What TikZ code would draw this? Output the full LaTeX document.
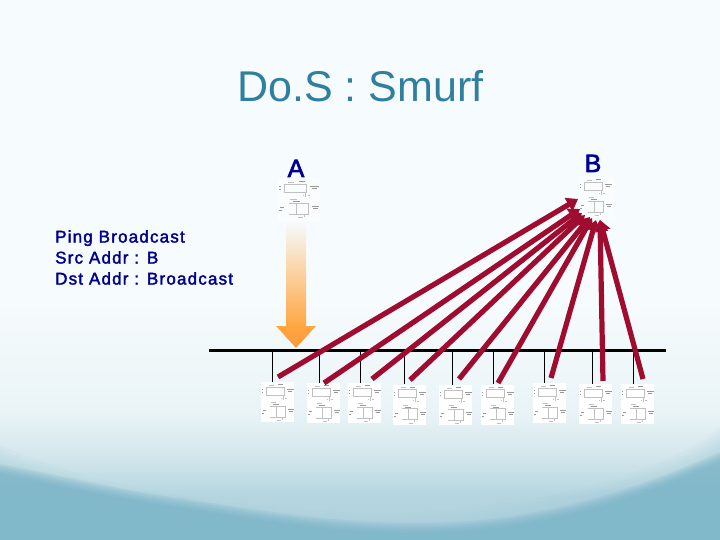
\documentclass[tikz,border=0pt]{standalone}
\usepackage{fontspec}
\setmainfont{Liberation Sans}
\newfontfamily\boldish[FakeBold=2.5]{Liberation Sans}
\newfontfamily\spaced[FakeBold=2,LetterSpace=7]{Liberation Sans}
\usetikzlibrary{arrows.meta}
\definecolor{titleblue}{HTML}{2F7F9F}
\definecolor{navy}{HTML}{000090}
\definecolor{wine}{HTML}{A00C30}
\definecolor{sketch}{HTML}{C0C0C0}
\definecolor{blob}{HTML}{989898}
\definecolor{orangeA}{HTML}{FFA640}
\definecolor{paper}{HTML}{F6FBFD}
\definecolor{pale}{HTML}{EAF4F7}
\definecolor{mist}{HTML}{D5E7ED}
\definecolor{haze}{HTML}{B4D5DF}
\definecolor{teal}{HTML}{74B1C6}
\definecolor{tealsoft}{HTML}{8EC0D0}
\pgfdeclareverticalshading{slidebg}{100bp}{
  color(0bp)=(haze);
  color(29bp)=(haze);
  color(33bp)=(mist);
  color(37bp)=(pale);
  color(47bp)=(paper);
  color(100bp)=(paper)}
\tikzset{
  hostbox/.style={fill=white,draw=none,minimum width=33pt,minimum height=40pt,inner sep=0pt},
  ghostbox/.style={fill=white,fill opacity=.5,draw=none,minimum width=42pt,minimum height=42pt,inner sep=0pt},
  sk/.style={draw=sketch,line width=.55pt},
  bl/.style={draw=blob,line width=.8pt},
  flood/.style={draw=wine,line width=5.2pt,-{Triangle[length=11pt,width=15pt]}},
  drop/.style={draw=black,line width=1pt},
  busline/.style={draw=black,line width=3pt},
}
\newcommand{\hostsketch}[2]{%
  \begin{scope}[shift={(#1.north west)},xscale=#2]
    \draw[sk] (5,5) rectangle (23,13);
    \draw[sk] (22,13) -- (22,18);
    \draw[bl] (17,3) -- (22,3);
    \draw[sk] (8,3) -- (13,3);
    \draw[bl] (1,8) -- (2.5,8) (1,11) -- (2.5,11);
    \draw[bl] (26,8) -- (33,8) (27,10) -- (31,10);
    \draw[sk] (20,16) -- (21,16) (24,16.5) -- (26,16.5);
    \draw[sk] (9,24) -- (24,24) -- (24,35) -- (9,35);
    \draw[sk] (15,24) -- (15,35);
    \draw[bl] (12,23) -- (18,23);
    \draw[sk] (10,20.5) -- (15,20.5);
    \draw[bl] (2,29) -- (5,29) (1,32) -- (3,32);
    \draw[bl] (27,28) -- (33,28) (28,30) -- (32,30);
    \draw[sk] (21,35) -- (21,38) (16,38.5) -- (20,38.5);
  \end{scope}}
\begin{document}
\begin{tikzpicture}[x=1pt,y=-1pt]
\useasboundingbox (0,0) rectangle (720,540);
% background
\shade[shading=slidebg] (0,0) rectangle (720,540);
\foreach \k in {0,...,5}{
  \fill[tealsoft,opacity=.06,yshift=\k*4pt*-1]
    (0,445) .. controls (100,490) and (220,505) .. (345,512)
    .. controls (500,518) and (660,480) .. (720,427) -- (720,560) -- (0,560) -- cycle;
}
\foreach \k in {0,...,5}{
  \fill[teal,opacity=.18,yshift=\k*2pt*-1]
    (0,464) .. controls (70,477) and (120,490) .. (180,498)
    .. controls (260,510) and (330,523) .. (420,523)
    .. controls (540,523) and (640,488) .. (720,452) -- (720,560) -- (0,560) -- cycle;
}
% title and labels
\node[anchor=base west,inner sep=0pt,text=titleblue,font=\fontsize{43}{43}\selectfont] (title) at (237,102) {Do.S : Smurf};
\node[anchor=base,inner sep=0pt,text=navy,font=\boldish\fontsize{25}{25}\selectfont] (labA) at (296,177) {A};
\node[anchor=base,inner sep=0pt,text=navy,font=\boldish\fontsize{25}{25}\selectfont] (labB) at (593,172) {B};
\node[anchor=north west,inner sep=0pt,align=left,text=navy,font=\spaced\fontsize{17}{21}\selectfont] (pingtext) at (55,230) {Ping Broadcast\\Src Addr : B\\Dst Addr : Broadcast};
% top hosts
\node[ghostbox] (hA) at (299,200) {};
\node[ghostbox,minimum width=36pt] (hB) at (597,198) {};
\hostsketch{hA}{1.25}
\hostsketch{hB}{1}
% bus
\coordinate (busL) at (209,350.5);
\coordinate (busR) at (666,350.5);
% hosts
\node[hostbox] (h1) at (277.5,402) {};
\node[hostbox] (h2) at (323.5,403) {};
\node[hostbox] (h3) at (364.5,403) {};
\node[hostbox] (h4) at (409.5,404.5) {};
\node[hostbox] (h5) at (455.5,405) {};
\node[hostbox] (h6) at (497.5,404.5) {};
\node[hostbox] (h7) at (549.5,403) {};
\node[hostbox] (h8) at (595.5,404) {};
\node[hostbox] (h9) at (637.5,404) {};
\foreach \n in {h1,h2,h3,h4,h5,h6,h7,h8,h9}{\hostsketch{\n}{1}}
% drops
\foreach \n/\x in {h1/272.5,h2/319.5,h3/360.5,h4/404.5,h5/452.5,h6/493.5,h7/544.5,h8/592.5,h9/633.5}{
  \coordinate (d\n) at (\x,350.5);
  \draw[drop] (d\n) -- (d\n |- \n.north);
}
\draw[busline] (busL) -- (busR);
% broadcast arrow
\shade[top color=paper,bottom color=orangeA,draw=none] (286,222) rectangle (306,327);
\shade[top color=orangeA,bottom color=orangeA!92!red,draw=none] (276,326) -- (316,326) -- (296,348) -- cycle;
% flood arrows
\coordinate (t1) at (278,377); \coordinate (e1) at (578,199);
\coordinate (t2) at (324,383); \coordinate (e2) at (580,209);
\coordinate (t3) at (372,379); \coordinate (e3) at (582,213);
\coordinate (t4) at (410,380); \coordinate (e4) at (585,215);
\coordinate (t5) at (459,379); \coordinate (e5) at (590,217);
\coordinate (t6) at (498,383); \coordinate (e6) at (592,218);
\coordinate (t7) at (551,378); \coordinate (e7) at (596,220);
\coordinate (t8) at (603,381); \coordinate (e8) at (600,220);
\coordinate (t9) at (643,379); \coordinate (e9) at (600,220);
\foreach \i in {1,...,9}{\draw[flood] (t\i) -- (e\i);}
\end{tikzpicture}
\end{document}
